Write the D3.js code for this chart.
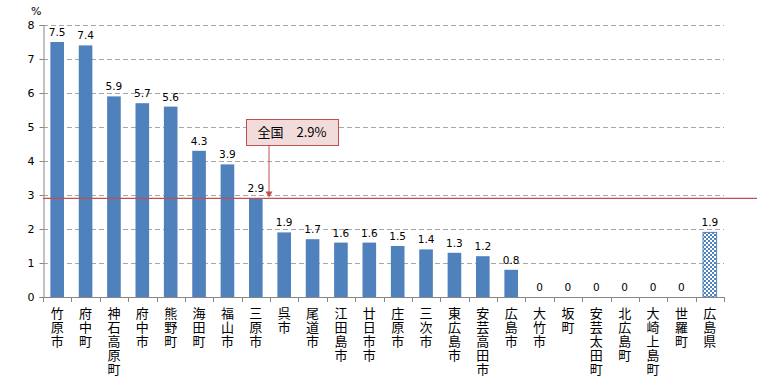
<!DOCTYPE html>
<html><head><meta charset="utf-8">
<script src="https://cdn.jsdelivr.net/npm/d3@7"></script>
<style>body{margin:0;background:#fff}svg{display:block}</style>
</head><body><svg id="c" width="757" height="379"></svg>
<script>
const categories = ["竹原市","府中町","神石高原町","府中市","熊野町","海田町","福山市","三原市","呉市","尾道市","江田島市","廿日市市","庄原市","三次市","東広島市","安芸高田市","広島市","大竹市","坂町","安芸太田町","北広島町","大崎上島町","世羅町","広島県"];
const values = [7.5,7.4,5.9,5.7,5.6,4.3,3.9,2.9,1.9,1.7,1.6,1.6,1.5,1.4,1.3,1.2,0.8,0,0,0,0,0,0,1.9];
const yTicks = [0,1,2,3,4,5,6,7,8];
const nationalValue = 2.9;
const nationalLabel = "全国　2.9%";
const unitLabel = "%";

const svg = d3.select("#c");
const L = 43, R = 724, T = 25, B = 297;
const x = d3.scaleBand().domain(categories).range([L, R]).paddingInner(0.52).paddingOuter(0.26);
const y = d3.scaleLinear().domain([0, 8]).range([B, T]);
const jp = "'Noto Sans CJK JP', sans-serif";
const num = "'DejaVu Sans', sans-serif";

const defs = svg.append("defs");
const pat = defs.append("pattern").attr("id","chk").attr("width",4).attr("height",4).attr("patternUnits","userSpaceOnUse");
pat.append("rect").attr("width",4).attr("height",4).attr("fill","#fff");
pat.append("rect").attr("width",2).attr("height",2).attr("fill","#4f81bd");
pat.append("rect").attr("x",2).attr("y",2).attr("width",2).attr("height",2).attr("fill","#4f81bd");

// gridlines
svg.append("g").selectAll("line").data(yTicks.filter(d=>d>0)).join("line")
  .attr("x1", L).attr("x2", R).attr("y1", d=>Math.round(y(d))+0.5).attr("y2", d=>Math.round(y(d))+0.5)
  .attr("stroke","#a6a6a6").attr("stroke-dasharray","5,3");

// y axis
const ya = svg.append("g").attr("transform",`translate(${L+0.5},0)`)
  .call(d3.axisLeft(y).tickValues(yTicks).tickSize(4).tickPadding(5).tickFormat(d3.format("d")));
ya.select(".domain").attr("stroke","#868686");
ya.selectAll(".tick line").attr("stroke","#868686");
ya.selectAll("text").attr("font-family",num).attr("font-size",11).attr("fill","#000");
svg.append("text").attr("x",31).attr("y",15).attr("font-family",num).attr("font-size",11).text(unitLabel);

// bars
svg.append("g").selectAll("rect").data(categories).join("rect")
  .attr("x", d=>x(d)).attr("width", x.bandwidth())
  .attr("y", (d,i)=>y(values[i])).attr("height",(d,i)=>B - y(values[i]))
  .attr("fill",(d,i)=> i===categories.length-1 ? "url(#chk)" : "#4f81bd")
  .attr("stroke",(d,i)=> i===categories.length-1 ? "#4f81bd" : "none");

// value labels
svg.append("g").selectAll("text").data(categories).join("text")
  .attr("x", d=>x(d)+x.bandwidth()/2).attr("y",(d,i)=>y(values[i])-6)
  .attr("text-anchor","middle").attr("font-family",num).attr("font-size",10.5)
  .text((d,i)=>values[i]);

// x axis
const step = x.step();
const bounds = d3.range(categories.length+1).map(i => L + i*step);
svg.append("line").attr("x1",L).attr("x2",R).attr("y1",B+0.5).attr("y2",B+0.5).attr("stroke","#868686");
svg.append("g").selectAll("line").data(bounds).join("line")
  .attr("x1",d=>Math.round(d)+0.5).attr("x2",d=>Math.round(d)+0.5).attr("y1",B).attr("y2",B+5).attr("stroke","#868686");

// x labels vertical
svg.append("g").selectAll("text").data(categories).join("text")
  .attr("font-family",jp).attr("font-size",13)
  .style("writing-mode","vertical-rl").style("text-orientation","upright")
  .attr("letter-spacing",1)
  .attr("x", d=>x(d)+x.bandwidth()/2).attr("y",307)
  .text(d=>d);

// national line
svg.append("line").attr("x1",L).attr("x2",757).attr("y1",y(nationalValue)).attr("y2",y(nationalValue))
  .attr("stroke","#c0504d").attr("stroke-width",1.2);

// callout
const ax = 269;
svg.append("line").attr("x1",ax).attr("x2",ax).attr("y1",145).attr("y2",y(nationalValue)-6).attr("stroke","#c0504d");
svg.append("path").attr("d",`M${ax-3.5},${y(nationalValue)-7} L${ax+3.5},${y(nationalValue)-7} L${ax},${y(nationalValue)-1} Z`).attr("fill","#c0504d");
svg.append("rect").attr("x",246.5).attr("y",119.5).attr("width",92).attr("height",26)
  .attr("fill","#f2dcdb").attr("stroke","#c0504d");
svg.append("text").attr("x",292).attr("y",137).attr("text-anchor","middle")
  .attr("font-family",jp).attr("font-size",13).text(nationalLabel);
</script></body></html>
